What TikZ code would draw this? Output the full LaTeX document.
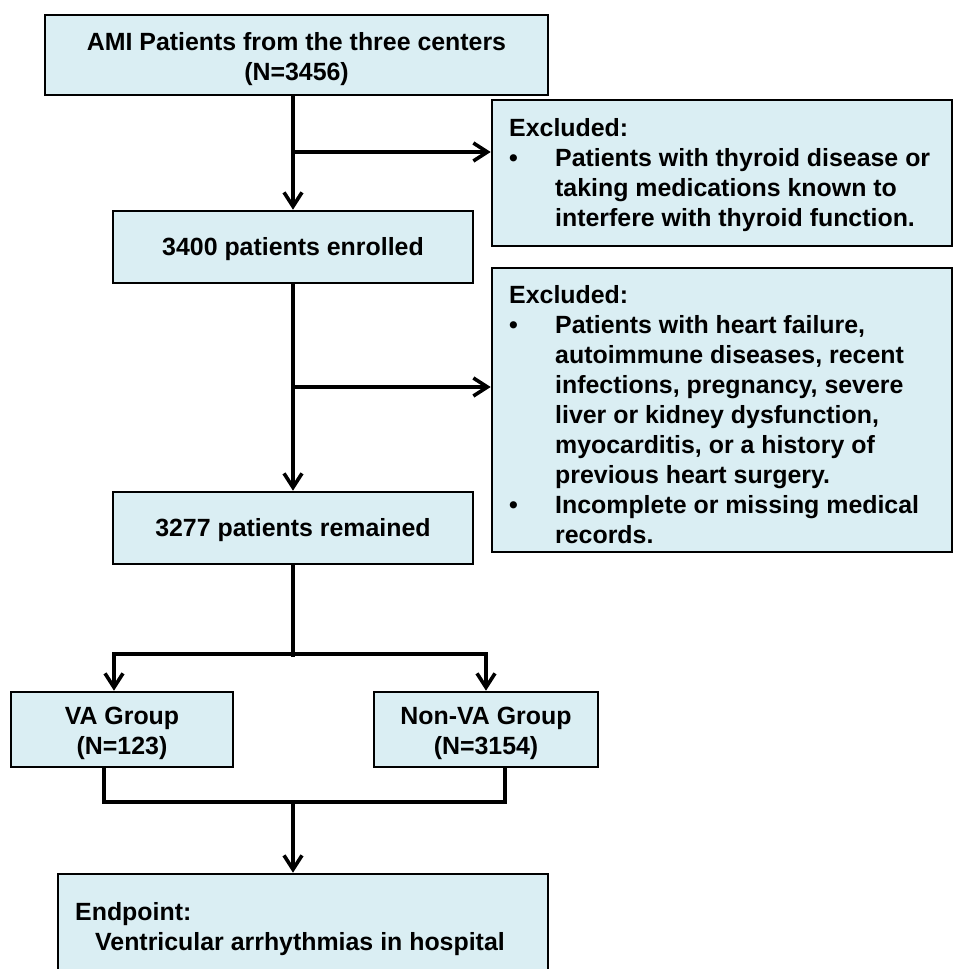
\documentclass[tikz,border=0pt]{standalone}
\usepackage{fontspec}
\setmainfont{Liberation Sans}
\usetikzlibrary{arrows.meta,calc}
\definecolor{boxfill}{HTML}{DAEEF3}
\begin{document}
\begin{tikzpicture}[x=1pt,y=-1pt,
  every node/.style={font=\fontsize{24.9}{30}\selectfont\bfseries},
  box/.style={draw=black, line width=2.6pt, fill=boxfill, inner sep=0pt},
  ctext/.style={inner sep=0pt, align=center},
  txt/.style={inner sep=0pt, align=left, anchor=north west},
  conn/.style={line width=3.6pt, line join=miter},
  arr/.style={conn, -{Straight Barb[length=14pt,width=18pt]}}]
\useasboundingbox (0,0) rectangle (953,969);
\fill[white] (0,0) rectangle (953,969);

% boxes
\node[box, minimum width=503pt, minimum height=80pt] (ami) at (296.5,55) {};
\node[ctext] (amit) at ($(ami.center)+(0,4.5)$) {AMI Patients from the three centers\\(N=3456)};
\node[box, minimum width=460pt, minimum height=146pt] (ex1) at (722,173) {};
\node[txt] (ex1t) at (509,118.5) {Excluded:\\\makebox[46pt][l]{•}Patients with thyroid disease or\\\hspace*{46pt}taking medications known to\\\hspace*{46pt}interfere with thyroid function.};
\node[box, minimum width=360pt, minimum height=72pt] (enr) at (293,247) {};
\node[ctext] (enrt) at ($(enr.center)+(0,2)$) {3400 patients enrolled};
\node[box, minimum width=460pt, minimum height=284pt] (ex2) at (722,410) {};
\node[txt] (ex2t) at (509,285) {Excluded:\\\makebox[46pt][l]{•}Patients with heart failure,\\\hspace*{46pt}autoimmune diseases, recent\\\hspace*{46pt}infections, pregnancy, severe\\\hspace*{46pt}liver or kidney dysfunction,\\\hspace*{46pt}myocarditis, or a history of\\\hspace*{46pt}previous heart surgery.\\\makebox[46pt][l]{•}Incomplete or missing medical\\\hspace*{46pt}records.};
\node[box, minimum width=360pt, minimum height=72pt] (rem) at (293,528) {};
\node[ctext] (remt) at ($(rem.center)+(0,2)$) {3277 patients remained};
\node[box, minimum width=222pt, minimum height=75pt] (va) at (122,729.5) {};
\node[ctext] (vat) at ($(va.center)+(0,3.5)$) {VA Group\\(N=123)};
\node[box, minimum width=224pt, minimum height=75pt] (nonva) at (486,729.5) {};
\node[ctext] (nonvat) at ($(nonva.center)+(0,3.5)$) {Non-VA Group\\(N=3154)};
\node[box, minimum width=490pt, minimum height=121pt] (endp) at (303,934.5) {};
\node[txt] (endt) at (75,902) {Endpoint:\\\hspace*{20pt}Ventricular arrhythmias in hospital};

% junction points
\coordinate (b1) at (293,152);
\coordinate (b2) at (293,387);
\coordinate (s) at (293,654);
\coordinate (sl) at (114,654);
\coordinate (m1) at (104,802);
\coordinate (m2) at (505,802);
\coordinate (mc) at (293,802);

% connectors
\draw[arr] (enr.north |- ami.south) -- (enr.north);
\draw[arr] (b1) -- (b1 -| ex1.west);
\draw[arr] (enr.south) -- (rem.north);
\draw[arr] (b2) -- (b2 -| ex2.west);
\draw[conn] (rem.south) -- ($(s)+(0,3)$);
\draw[arr] (s) -| (sl |- va.north);
\draw[arr] (s) -| (nonva.north);
\draw[conn] (m1 |- va.south) -- (m1) -- (m2) -- (m2 |- nonva.south);
\draw[arr] (mc) -- (mc |- endp.north);
\end{tikzpicture}
\end{document}
